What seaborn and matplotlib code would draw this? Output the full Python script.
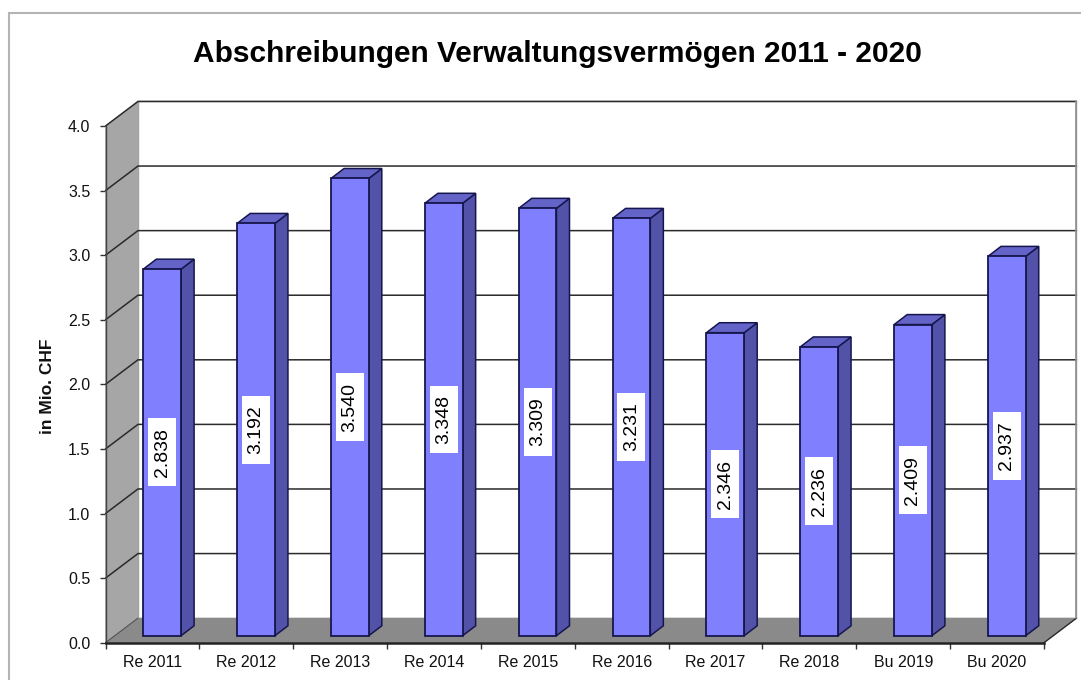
import matplotlib
matplotlib.use('Agg')
import matplotlib.pyplot as plt
from matplotlib.patches import Polygon, Rectangle
import seaborn as sns

labels = ['Re 2011', 'Re 2012', 'Re 2013', 'Re 2014', 'Re 2015',
          'Re 2016', 'Re 2017', 'Re 2018', 'Bu 2019', 'Bu 2020']
values = [2.838, 3.192, 3.540, 3.348, 3.309, 3.231, 2.346, 2.236, 2.409, 2.937]
value_text = ['2.838', '3.192', '3.540', '3.348', '3.309',
              '3.231', '2.346', '2.236', '2.409', '2.937']
y_ticks = [0.0, 0.5, 1.0, 1.5, 2.0, 2.5, 3.0, 3.5, 4.0]

W, H = 1081, 680
LEFT, RIGHT, TOP, BOTTOM = 105.5, 1044.0, 126.0, 642.7
# one category = 93.85 px, one unit = 129.2 px
WALL_DX, WALL_DY = 0.346, 0.19
BAR_DX, BAR_DY = 0.139, 0.077
BAR_SHIFT_X, BAR_SHIFT_Y = 0.104, 0.054
BAR_W = 0.402
EDGE = '#16164e'

sns.set_theme(style='white')
plt.rcParams['font.family'] = ['Liberation Sans', 'DejaVu Sans']

fig = plt.figure(figsize=(W / 100, H / 100), dpi=100, facecolor='white')
ax = fig.add_axes([LEFT / W, 1 - BOTTOM / H, (RIGHT - LEFT) / W, (BOTTOM - TOP) / H])
ax.patch.set_visible(False)

sns.barplot(x=labels, y=values, color='#8080ff', saturation=1, width=BAR_W,
            edgecolor=EDGE, linewidth=1.3, ax=ax, zorder=4)
ax.set_xlim(-0.5, 9.5)
ax.set_ylim(0, 4)

# outer frame runs off the right and bottom of the image
fig.add_artist(Rectangle((8.5 / W, -0.1), 1.2, 1 - 12.8 / H + 0.1, transform=fig.transFigure,
                         fill=False, edgecolor='#b4b4b4', linewidth=1.5))


def poly(pts, color, z=1, edge='none', lw=0):
    ax.add_patch(Polygon(pts, closed=True, facecolor=color, edgecolor=edge,
                         linewidth=lw, clip_on=False, zorder=z))


x0, x1 = -0.5, 9.5
# back wall, left wall, floor
poly([(x0 + WALL_DX, WALL_DY), (x1 + WALL_DX, WALL_DY), (x1 + WALL_DX, 4 + WALL_DY),
      (x0 + WALL_DX, 4 + WALL_DY)], 'white', edge='#a0a0a0', lw=1)
poly([(x0, 0), (x0 + WALL_DX, WALL_DY), (x0 + WALL_DX, 4 + WALL_DY), (x0, 4)], '#a6a6a6',
     edge='#a6a6a6', lw=0.5)
poly([(x0, 0), (x1, 0), (x1 + WALL_DX, WALL_DY), (x0 + WALL_DX, WALL_DY)], '#8a8a8a',
     edge='#8a8a8a', lw=0.5)

# gridlines bend round the left wall
for t in y_ticks[1:]:
    ax.plot([x0, x0 + WALL_DX, x1 + WALL_DX], [t, t + WALL_DY, t + WALL_DY],
            color='#2a2a2a', lw=1.1, clip_on=False, zorder=2, solid_joinstyle='miter')
ax.plot([x0, x0 + WALL_DX], [0, WALL_DY], color='#555555', lw=0.8, clip_on=False, zorder=2)
ax.plot([x1, x1 + WALL_DX], [0, WALL_DY], color='#2a2a2a', lw=1.0, clip_on=False, zorder=2)
ax.plot([x1 + WALL_DX, x1 + WALL_DX], [WALL_DY, 4 + WALL_DY], color='#909090', lw=1.2,
        clip_on=False, zorder=2)

# move the fronts back on the floor and add top and side faces
for bar, val, txt in zip(ax.patches, values, value_text):
    bar.set_x(bar.get_x() + BAR_SHIFT_X)
    bar.set_y(BAR_SHIFT_Y)
    l = bar.get_x()
    r = l + BAR_W
    b = BAR_SHIFT_Y
    t = b + val
    poly([(r, b), (r + BAR_DX, b + BAR_DY), (r + BAR_DX, t + BAR_DY), (r, t)], '#5252a8', z=3,
         edge=EDGE, lw=1.1)
    poly([(l, t), (r, t), (r + BAR_DX, t + BAR_DY), (l + BAR_DX, t + BAR_DY)], '#6464c8', z=3,
         edge=EDGE, lw=1.1)
    cx = l + BAR_W / 2
    cy = b + val / 2
    ax.add_patch(Rectangle((cx - 0.149, cy - 0.263), 0.298, 0.526, facecolor='white',
                           edgecolor='none', zorder=5))
    ax.text(cx, cy, txt, rotation=90, ha='center', va='center', fontsize=14, color='black',
            zorder=6)

ax.set_yticks(y_ticks)
ax.set_yticklabels(['{:.1f}'.format(t) for t in y_ticks])
ax.set_xticks([i - 0.5 for i in range(11)])
ax.set_xticklabels([])
ax.set_xticks(range(10), labels=labels, minor=True)
ax.tick_params(axis='y', length=4, width=1, color='#333333', labelsize=11.5, pad=7,
               labelcolor='#111111', left=True)
ax.tick_params(axis='x', which='major', length=4, width=1, color='#333333', bottom=True)
ax.tick_params(axis='x', which='minor', length=0, labelsize=11.5, pad=9, labelcolor='#111111')
ax.set_xlabel('')

sns.despine(ax=ax, top=True, right=True)
ax.spines['left'].set_color('#444444')
ax.spines['left'].set_linewidth(1.0)
ax.spines['left'].set_zorder(2.5)
ax.spines['bottom'].set_color('#222222')
ax.spines['bottom'].set_linewidth(1.8)

fig.text(47 / W, 1 - 386 / H, 'in Mio. CHF', rotation=90, ha='center', va='center',
         fontsize=12.5, fontweight='bold', color='#111111')
fig.text(557 / W, 1 - 54 / H, 'Abschreibungen Verwaltungsvermögen 2011 - 2020', ha='center',
         va='center', fontsize=21.5, fontweight='bold', color='black')

fig.savefig('out.png', dpi=100)
